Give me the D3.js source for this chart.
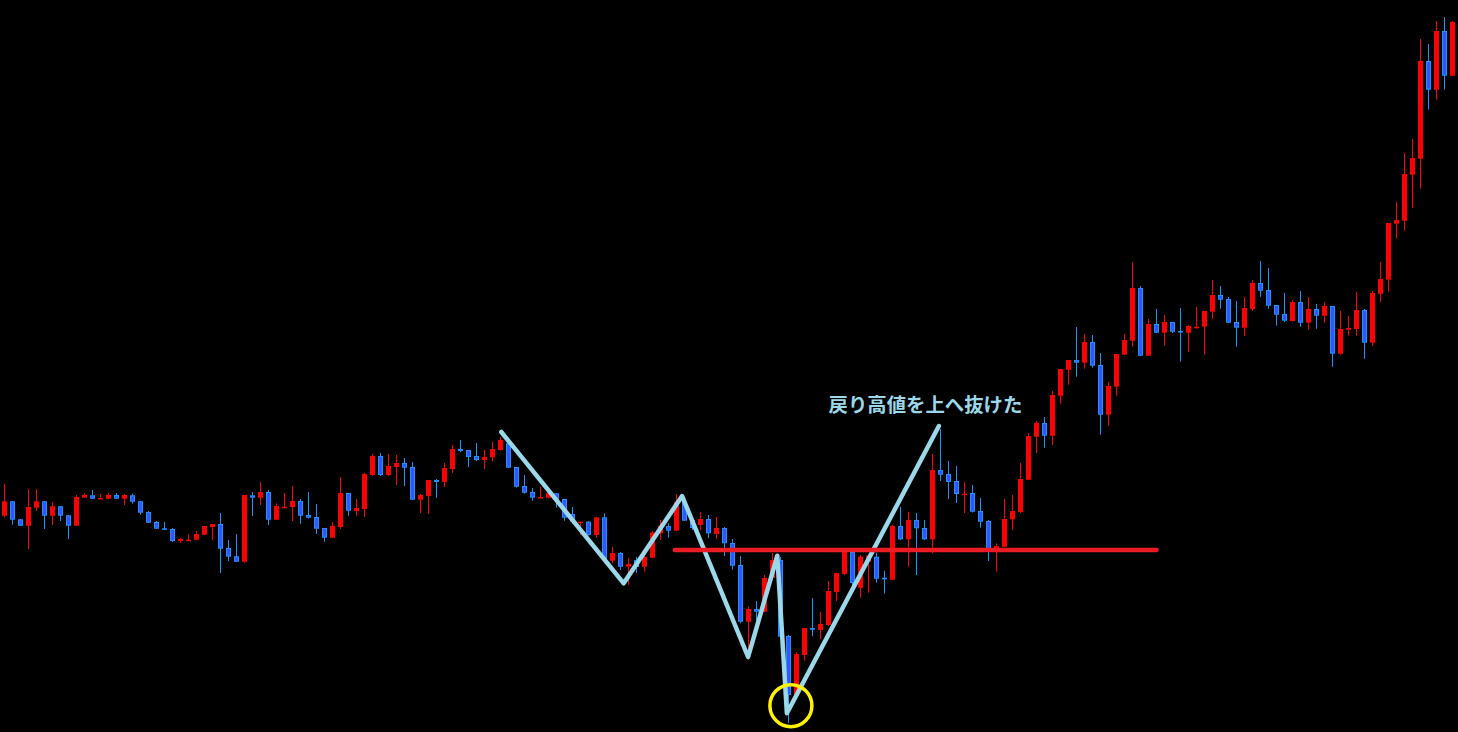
<!DOCTYPE html>
<html><head><meta charset="utf-8">
<script src="https://cdn.jsdelivr.net/npm/d3@7"></script>
<style>html,body{margin:0;padding:0;background:#000;overflow:hidden}svg{display:block}</style>
</head><body>
<script>
// OHLC prices (points), one candle per period
const open = [484.3,498.7,480.7,474.3,492.3,498.7,484.3,493.7,484.7,474.3,502.3,504.7,501.7,501.3,505,501.3,504.7,498.7,488,478,
471.7,471,459,460,460.3,465.3,473,476,452,443.7,438.3,504.7,502.3,508,480.3,493,493,499,485,483,
472,462.3,473,507,489,491,525,544,525,533,537,533,500.3,504,520,518,531,551,550,544,
540,542.7,550,556.7,533,514,508,502.3,502.3,506.7,501,486,477.3,478.3,465,482.7,439.3,447,433.3,440,
433.3,442.3,466.7,474,469.3,498.3,480,475,481,466,472,457,435,378.3,391,388.3,422,440,364,305,
345,372,370,375,408,426,448,412.3,438.3,443.3,422.3,420.3,474,460.7,480,472,460.7,530,526,519,
506,507,489,479,451.7,453.3,480.7,488,520.3,563.3,577,564.3,604.3,630.3,640,637.3,658,635,585.3,613.3,
645.3,659.3,712,644.3,676,667.3,678,669,667.3,673,673.3,688.3,705,701,678,672.3,691,717,710,695,
686,679,698,677.3,691,684.3,694,646.3,670.3,671,690,657.3,706.3,720.3,776.3,779.3,825.3,841.3,939,910.3,
969,924.3];
const high = [516,499,481,511,511,499,498,494,485,505,507,510,506.3,507,507,506,506.3,499,489,479,
478,472,462,466,469,474,476,487,460,466,505,508,518,510,496.7,507,514,501,508,496,
472,478,523,507,501,527,546,547,546,545,542,538,506,520,521,537,555,560,550,557,
550,558.3,563,559,533,525,512,513.3,508,507,501,493,478.3,479,483,486.7,453,448,442,443,
448.3,469,480,476.7,506,503,482,488,485,483,473,461,444,393.3,399,425,447,443,365,348,
372,402,388,419,427,450,449,445,446,447.3,429.3,475,493.3,488,487,480,546,571,539,534,
518,515,502,480,456.7,501,505,537,567,579,583,609,631,640,673,666,665,647,618,646,
666,738,714,681,691,685,678,692,675,693,674,720,714,703,699,703,720,739,732,695,
707,700,709,703,696,698,694,689,684,708,691,709,738,777,798,847,861,961,956,979,
983,979];
const low = [482.7,475.3,474,451,489.3,471,475,479,461,474,502,501,501.5,501,501,495,496.3,485.3,477,471,
470,458,457,459,460,465,460,427,439,438,437.3,484,495,475,480,492.3,479,476.3,481.3,466.3,
458.3,462,471,484.3,484.3,483,524,524,524,515,514,500,487,486,502,513,527,548,533,539,
531,538.3,549.5,532,512.3,506.3,499.3,502,501.5,492.3,479.3,476.7,465,464.5,462.3,439.3,436.7,430,415,427,
428.3,442,460,462.3,469,479,470,470,462,461,444,430.3,376.7,340,379,388,420,363,277.3,304,
339.3,363.7,360.7,374,399,425,411,402.3,407.3,417.3,406.3,420,460,433.3,425,460,446.7,519,501,497,
487,487.5,472.3,439,428.3,453,470,487,520,547,552.3,555,596.3,615.3,623.3,631.3,632.3,565.3,574.3,604.3,
645,653.3,644,644,667,654.3,667,638.3,648.3,671.3,645.3,681,691.3,677,653.3,664.3,689,703.3,691.3,674.3,
678,678.5,673.3,670.3,671.3,677.3,633.3,645.3,664.3,664.3,641.3,654.3,698,708.3,761.3,769.3,792.3,811.3,890.3,900.3,
910.3,924];
const close = [498.7,480.3,474.3,493,498.7,484.3,493.7,484.3,474.3,503,505,501.3,502,505,501.3,505,498.3,487.3,477.3,471.3,
470.3,459,461,460.3,466,474,476,451.3,443.3,438.3,505,502.3,508,480.3,494,493.3,499,484.3,482.3,471.3,
462.3,474,507,489.3,492,526,544,525,534,537,532.3,500.3,505,520,518,532,551,549,543,540,
543,551,560,532.3,513.3,507.3,502.3,503,507,501,482.3,478.3,478.3,465,482.7,440,447,433.3,436,433,
443,467.3,474.3,469.3,498.3,479.3,472,481,466.7,472,456.7,434.3,378.3,391,388.3,422,440,363.3,305,346,
372,370.3,376,409,427,448,417,443.3,444.5,421.3,420.7,474,460.7,480,471.7,460.7,530,525.3,518,506,
506.3,488.3,478.3,451,454,481,489,521,564,577,564.3,605,631,640,637.3,658,634.3,585.3,614,646,
660,712,644.3,676,667.3,678,668.3,667.7,674,673.3,689,705,700.3,677.3,672.3,692,717,709.3,694.3,685.3,
679.3,698,677.3,691,684.3,694,646.3,671,672,690,657.3,707,721,777,780,826,842,939,910.3,969,
924.3,978];

// annotation anchors: [candle index, price]
const swingIdx   = [62.1, 77.4, 84.7, 92.95, 96.6, 97.8, 116.8];
const swingPrice = [568, 416.7, 504, 343, 444.3, 286.7, 574];
const resistancePrice = 450;
const resistanceFrom = 83.8, resistanceTo = 144;
const lowMarkIdx = 98.3, lowMarkPrice = 294.3;
const noteText = "戻り高値を上へ抜けた";
const noteIdx = 103, notePrice = 588.5;

const W = 1458, H = 732;
const svg = d3.select("body").append("svg").attr("width", W).attr("height", H)
  .style("background", "#000");
svg.append("rect").attr("width", W).attr("height", H).attr("fill", "#000");

const n = open.length;
const x = d3.scaleLinear().domain([0, n - 1]).range([4.5, 1452.5]);
const y = d3.scaleLinear().domain([268, 1000]).range([H, 0]);

const data = d3.range(n).map(i => ({i, o: open[i], h: high[i], l: low[i], c: close[i]}));
const UP = "#ff0000", DN_FILL = "#2f58ff", DN_EDGE = "#1e90ff";

const g = svg.append("g");
const cg = g.selectAll("g.c").data(data).join("g").attr("class", "c");
cg.append("rect")
  .attr("x", d => x(d.i) - 0.5).attr("width", 1)
  .attr("y", d => y(d.h)).attr("height", d => Math.max(1, y(d.l) - y(d.h)))
  .attr("fill", d => d.c >= d.o ? UP : DN_EDGE);
cg.each(function(d) {
  const sel = d3.select(this);
  const top = y(Math.max(d.o, d.c)), bot = y(Math.min(d.o, d.c));
  const hgt = Math.max(1.5, bot - top);
  if (d.c >= d.o) {
    sel.append("rect").attr("x", x(d.i) - 2.5).attr("width", 5)
      .attr("y", top).attr("height", hgt).attr("fill", UP);
  } else {
    sel.append("rect").attr("x", x(d.i) - 2).attr("width", 4)
      .attr("y", top + 0.5).attr("height", Math.max(0.5, hgt - 1))
      .attr("fill", DN_FILL).attr("stroke", DN_EDGE).attr("stroke-width", 1);
  }
});

// swing polyline
const line = d3.line().x(d => x(d[0])).y(d => y(d[1]));
svg.append("path")
  .datum(swingIdx.map((v, k) => [v, swingPrice[k]]))
  .attr("d", line).attr("fill", "none")
  .attr("stroke", "#9bd8e9").attr("stroke-width", 4.5)
  .attr("stroke-linejoin", "round").attr("stroke-linecap", "round");

// resistance line
svg.append("line")
  .attr("x1", x(resistanceFrom)).attr("x2", x(resistanceTo))
  .attr("y1", y(resistancePrice)).attr("y2", y(resistancePrice))
  .attr("stroke", "#ed1c24").attr("stroke-width", 4.5).attr("stroke-linecap", "round");

// low marker
svg.append("circle")
  .attr("cx", x(lowMarkIdx)).attr("cy", y(lowMarkPrice)).attr("r", 21)
  .attr("fill", "none").attr("stroke", "#fff200").attr("stroke-width", 3.5);

// note
svg.append("text")
  .attr("x", x(noteIdx)).attr("y", y(notePrice))
  .attr("font-family", "'Noto Sans CJK JP', 'Noto Sans', sans-serif")
  .attr("font-weight", "bold").attr("font-size", 19.4)
  .attr("fill", "#9bd8e9").text(noteText);
</script>
</body></html>
